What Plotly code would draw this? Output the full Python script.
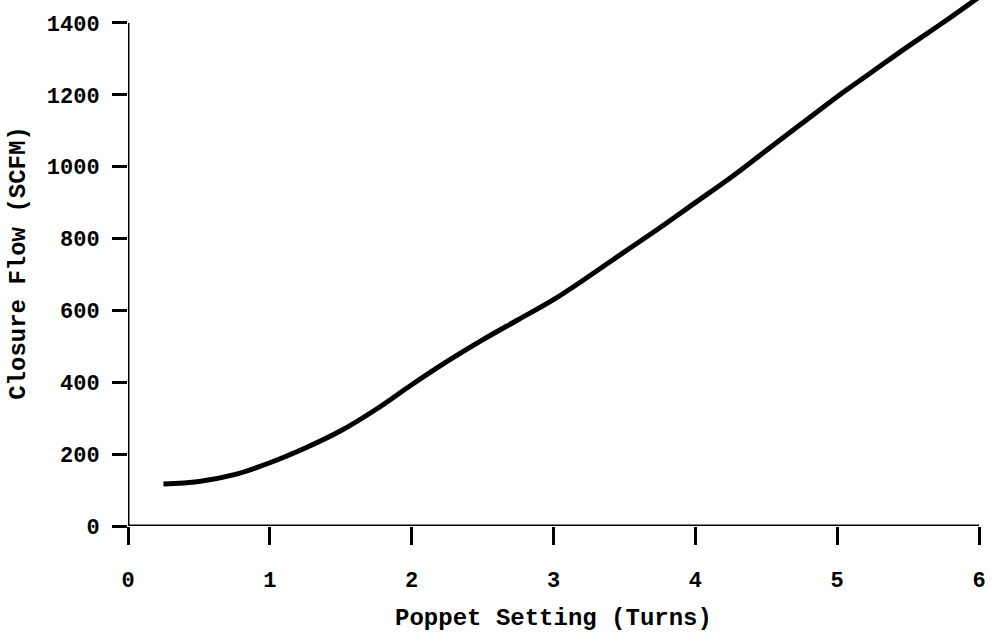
import plotly.graph_objects as go

# Data
poppet_turns = [0.25, 0.5, 0.75, 1.0, 1.25, 1.5, 1.75, 2.0, 2.25, 2.5, 2.75, 3.0,
                3.25, 3.5, 3.75, 4.0, 4.25, 4.5, 4.75, 5.0, 5.25, 5.5, 5.75, 6.0]
closure_flow = [117, 124, 143, 176, 217, 265, 325, 393, 458, 518, 574, 630,
                695, 763, 830, 900, 970, 1045, 1120, 1195, 1265, 1335, 1402, 1472]

x_ticks = [0, 1, 2, 3, 4, 5, 6]
y_ticks = [0, 200, 400, 600, 800, 1000, 1200, 1400]

FONT = "Liberation Mono"

fig = go.Figure()
fig.add_trace(go.Scatter(
    x=poppet_turns, y=closure_flow, mode="lines",
    line=dict(color="black", width=5, shape="spline", smoothing=1.0),
    showlegend=False, hoverinfo="skip",
))

# axis lines (y axis line stops at 1400, the curve runs past it)
fig.add_shape(type="line", xref="x", yref="y", x0=0, y0=0, x1=0, y1=1400,
              line=dict(color="black", width=3), layer="above")
fig.add_shape(type="line", xref="x", yref="y", x0=0, y0=0, x1=6, y1=0,
              line=dict(color="black", width=3), layer="above")

fig.update_layout(
    width=997, height=635,
    paper_bgcolor="white", plot_bgcolor="white",
    margin=dict(l=128, r=18, t=0, b=109),
    font=dict(family=FONT, color="black", size=22),
    xaxis=dict(
        range=[0, 6], tickvals=x_ticks, ticktext=[str(v) for v in x_ticks],
        showgrid=False, zeroline=False, showline=False, automargin=False,
        ticks="outside", ticklen=18, tickwidth=3, tickcolor="black",
        ticklabelstandoff=16,
        tickfont=dict(family=FONT, size=22, color="black", weight="bold"),
        title=dict(text="<b>Poppet Setting (Turns)</b>", standoff=14,
                   font=dict(family=FONT, size=24, color="black")),
    ),
    yaxis=dict(
        range=[0, 1464], tickvals=y_ticks, ticktext=[str(v) for v in y_ticks],
        showgrid=False, zeroline=False, showline=False, automargin=False,
        ticks="outside", ticklen=15, tickwidth=3, tickcolor="black",
        ticklabelstandoff=8,
        tickfont=dict(family=FONT, size=22, color="black", weight="bold"),
        title=dict(text="<b>Closure Flow (SCFM)</b>", standoff=14,
                   font=dict(family=FONT, size=24, color="black")),
    ),
)

fig.write_html("out.html", config={"displayModeBar": False},
               post_script="document.body.style.margin='0';")
